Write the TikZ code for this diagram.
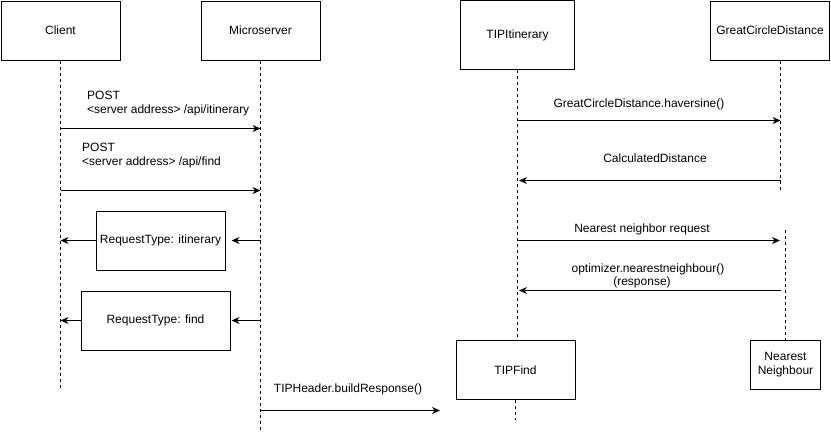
\documentclass[tikz,border=0pt]{standalone}
\usepackage{fontspec}
\setmainfont{Liberation Sans}
\usetikzlibrary{arrows.meta,positioning}

\begin{document}
\begin{tikzpicture}[x=1pt, y=-1pt, font=\fontsize{12}{14}\selectfont,
	actor/.style={draw, line width=1pt, inner sep=0pt, minimum width=119pt, minimum height=59pt},
	life/.style={line width=1pt, dash pattern=on 3pt off 3pt},
	msg/.style={line width=1pt, -{Stealth[length=8pt, width=7pt]}},
	lbl/.style={inner sep=0pt, align=left}]
		\useasboundingbox (0,0) rectangle (831,432);

		% draw participants
		\node[actor] (client) at (60.5,30.5) {Client};
		\node[actor] (micro) at (260.5,30.5) {Microserver};
		\node[actor, minimum width=114pt, minimum height=69pt] (tipitin) at (517.5,35) {TIPItinerary};
		\node[actor] (gcd) at (770,30.5) {GreatCircleDistance};
		\node[actor] (tipfind) at (515.5,370) {TIPFind};
		\node[actor, minimum width=70pt, minimum height=49pt, align=center] (nn) at (785.5,365) {Nearest\\Neighbour};

		% draw request type boxes
		\node[actor, minimum width=129pt] (reqitin) at (160.5,240.5) {RequestType: itinerary};
		\node[actor, minimum width=149pt] (reqfind) at (155.5,320.5) {RequestType: find};

		% lifeline ends
		\coordinate (clientend) at (60.5,390);
		\coordinate (microend) at (260.5,432);
		\coordinate (gcdtop) at (780.5,61);
		\coordinate (gcdend) at (780.5,190);
		\coordinate (nntop) at (785.5,230);

		% draw lifelines
		\draw[life] (client.south) -- (clientend);
		\draw[life] (micro.south) -- (microend);
		\draw[life] (tipitin.south) -- (tipitin.south |- tipfind.north);
		\draw[life] (tipfind.south) -- ++(0,20);
		\draw[life] (gcdtop) -- (gcdend);
		\draw[life] (nntop) -- (nn.north);

		% message ends
		\coordinate (c1) at (60.5,128.5);  \coordinate (m1) at (260.5,128.5);
		\coordinate (c2) at (60.5,190.5);  \coordinate (m2) at (260.5,190.5);
		\coordinate (c3) at (60.5,240.5);  \coordinate (m3) at (260.5,240.5);
		\coordinate (c4) at (60.5,320.5);  \coordinate (m4) at (260.5,320.5);
		\coordinate (m5) at (260.5,410.5); \coordinate (t5) at (440,410.5);
		\coordinate (i6) at (518,120.5);   \coordinate (g6) at (780.5,120.5);
		\coordinate (g7) at (780.5,180.5); \coordinate (i7) at (519,180.5);
		\coordinate (i8) at (517,240.5);   \coordinate (n8) at (780,240.5);
		\coordinate (n9) at (780.5,290.5); \coordinate (i9) at (519,290.5);

		% draw messages
		\draw[msg] (c1) -- (m1);
		\draw[msg] (c2) -- (m2);
		\draw[msg] (m3) -- ([xshift=6pt]reqitin.east);
		\draw[msg] (reqitin.west) -- (c3);
		\draw[msg] (m4) -- ([xshift=1pt]reqfind.east);
		\draw[msg] (reqfind.west) -- (c4);
		\draw[msg] (m5) -- (t5);
		\draw[msg] (i6) -- (g6);
		\draw[msg] (g7) -- (i7);
		\draw[msg] (i8) -- (n8);
		\draw[msg] (n9) -- (i9);

		% draw labels
		\node[lbl, anchor=west] (post1) at (87,104) {POST\\<server address> /api/itinerary};
		\node[lbl, anchor=west] (post2) at (82,155.5) {POST\\<server address> /api/find};
		\node[lbl] (build) at (348,389) {TIPHeader.buildResponse()};
		\node[lbl] (hav) at (639,104) {GreatCircleDistance.haversine()};
		\node[lbl] (calc) at (655,158.5) {CalculatedDistance};
		\node[lbl] (nnreq) at (642,229) {Nearest neighbor request};
		\node[lbl, align=center] (opt) at (648,275.5) {optimizer.nearestneighbour()\\[-1pt]\hspace*{-12pt}(response)};
	\end{tikzpicture}
\end{document}
